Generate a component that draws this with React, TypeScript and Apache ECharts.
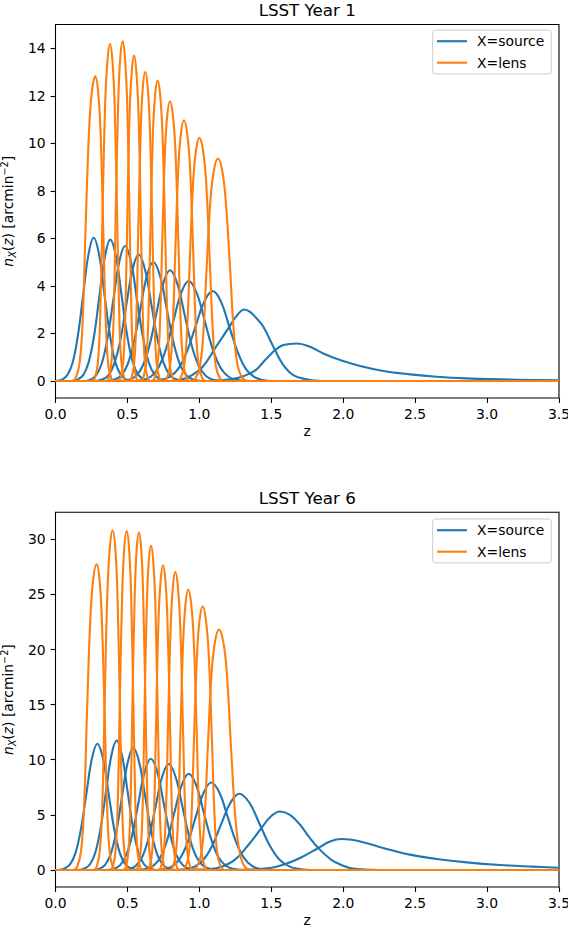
import React, { useEffect, useRef } from "react";
import * as echarts from "echarts";

const FONT = "DejaVu Sans";
const BLUE = "#1f77b4";
const ORANGE = "#ff7f0e";

const zTicks = [0, 0.5, 1, 1.5, 2, 2.5, 3, 3.5];
const y1Ticks = [0, 2, 4, 6, 8, 10, 12, 14];
const y6Ticks = [0, 5, 10, 15, 20, 25, 30];
const titles = ["LSST Year 1", "LSST Year 6"];
const legendNames = ["X=source", "X=lens"];

// ---- LSST Year 1 : source bins (z, n) ----
const y1SourceBins = [
  [[0,0],[0.049,0.07],[0.085,0.27],[0.121,0.81],[0.157,1.96],[0.193,3.66],[0.229,5.32],[0.265,6.03],[0.303,5.32],[0.340,3.66],[0.378,1.96],[0.415,0.81],[0.453,0.27],[0.490,0.07],[0.535,0],[3.5,0]],
  [[0,0],[0.111,0],[0.156,0.07],[0.194,0.26],[0.231,0.80],[0.269,1.93],[0.306,3.61],[0.344,5.25],[0.381,5.95],[0.420,5.25],[0.459,3.61],[0.498,1.93],[0.537,0.80],[0.576,0.26],[0.615,0.07],[0.662,0],[3.5,0]],
  [[0,0],[0.195,0],[0.243,0.06],[0.283,0.25],[0.323,0.77],[0.363,1.85],[0.403,3.45],[0.443,5.01],[0.483,5.68],[0.525,5.01],[0.566,3.45],[0.608,1.85],[0.649,0.77],[0.691,0.25],[0.732,0.06],[0.782,0],[3.5,0]],
  [[0,0],[0.272,0],[0.323,0.06],[0.366,0.23],[0.408,0.72],[0.451,1.73],[0.493,3.23],[0.536,4.69],[0.578,5.32],[0.622,4.69],[0.666,3.23],[0.710,1.73],[0.754,0.72],[0.798,0.23],[0.842,0.06],[0.895,0],[3.5,0]],
  [[0,0],[0.356,0],[0.410,0.06],[0.455,0.22],[0.500,0.68],[0.545,1.63],[0.590,3.04],[0.635,4.42],[0.680,5.01],[0.727,4.42],[0.773,3.04],[0.820,1.63],[0.866,0.68],[0.913,0.22],[0.959,0.06],[1.015,0],[3.5,0]],
  [[0,0],[0.454,0],[0.511,0.05],[0.559,0.21],[0.606,0.63],[0.654,1.51],[0.701,2.83],[0.749,4.11],[0.796,4.66],[0.846,4.11],[0.896,2.83],[0.946,1.51],[0.996,0.63],[1.046,0.21],[1.096,0.05],[1.156,0],[3.5,0]],
  [[0,0],[0.548,0],[0.611,0.05],[0.664,0.19],[0.716,0.57],[0.769,1.37],[0.821,2.56],[0.874,3.71],[0.926,4.21],[0.981,3.71],[1.036,2.56],[1.091,1.37],[1.146,0.57],[1.201,0.19],[1.256,0.05],[1.322,0],[3.5,0]],
  [[0,0],[0.661,0],[0.733,0.04],[0.793,0.17],[0.853,0.51],[0.913,1.23],[0.973,2.29],[1.033,3.33],[1.093,3.78],[1.151,3.33],[1.208,2.29],[1.266,1.23],[1.323,0.51],[1.381,0.17],[1.438,0.04],[1.507,0],[3.5,0]],
  [[0,0],[0.80,0],[0.87,0.06],[0.93,0.18],[1.023,0.6],[1.116,1.44],[1.208,2.28],[1.26,2.75],[1.313,3.01],[1.352,2.91],[1.40,2.62],[1.445,2.28],[1.526,1.30],[1.584,0.67],[1.653,0.25],[1.746,0.07],[1.82,0.01],[1.9,0],[3.5,0]],
  [[0,0],[1.0,0],[1.1,0.01],[1.2,0.06],[1.28,0.15],[1.352,0.32],[1.40,0.50],[1.445,0.80],[1.49,1.08],[1.526,1.30],[1.584,1.51],[1.677,1.58],[1.769,1.44],[1.862,1.16],[1.978,0.88],[2.117,0.63],[2.279,0.42],[2.464,0.28],[2.65,0.18],[2.858,0.11],[3.09,0.07],[3.32,0.04],[3.5,0.03]],
];

// ---- LSST Year 1 : lens bins (z, n) ----
const y1LensBins = [
  [[0,0],[0.114,0],[0.141,0.13],[0.168,0.77],[0.189,2.56],[0.209,6.41],[0.233,10.51],[0.253,12.18],[0.277,12.82],[0.296,12.18],[0.313,10.51],[0.332,6.41],[0.349,2.56],[0.365,0.77],[0.387,0.13],[0.409,0],[3.5,0]],
  [[0,0],[0.254,0],[0.275,0.14],[0.296,0.85],[0.311,2.84],[0.327,7.09],[0.345,11.63],[0.361,13.47],[0.379,14.18],[0.396,13.47],[0.411,11.63],[0.428,7.09],[0.443,2.84],[0.457,0.85],[0.477,0.14],[0.497,0],[3.5,0]],
  [[0,0],[0.352,0],[0.371,0.14],[0.390,0.86],[0.405,2.86],[0.419,7.15],[0.436,11.72],[0.450,13.58],[0.467,14.29],[0.483,13.58],[0.498,11.72],[0.514,7.15],[0.528,2.86],[0.542,0.86],[0.561,0.14],[0.580,0],[3.5,0]],
  [[0,0],[0.433,0],[0.452,0.14],[0.471,0.82],[0.485,2.74],[0.499,6.85],[0.515,11.23],[0.530,13.01],[0.546,13.69],[0.562,13.01],[0.577,11.23],[0.593,6.85],[0.607,2.74],[0.621,0.82],[0.640,0.14],[0.659,0],[3.5,0]],
  [[0,0],[0.509,0],[0.528,0.13],[0.547,0.78],[0.562,2.6],[0.576,6.5],[0.593,10.66],[0.607,12.35],[0.624,13.0],[0.641,12.35],[0.656,10.66],[0.673,6.5],[0.688,2.6],[0.702,0.78],[0.722,0.13],[0.742,0],[3.5,0]],
  [[0,0],[0.590,0],[0.610,0.13],[0.630,0.76],[0.645,2.53],[0.660,6.32],[0.677,10.36],[0.692,12.01],[0.710,12.64],[0.728,12.01],[0.744,10.36],[0.762,6.32],[0.778,2.53],[0.793,0.76],[0.814,0.13],[0.835,0],[3.5,0]],
  [[0,0],[0.666,0],[0.688,0.12],[0.710,0.71],[0.726,2.35],[0.742,5.89],[0.761,9.65],[0.777,11.18],[0.796,11.77],[0.816,11.18],[0.834,9.65],[0.854,5.89],[0.871,2.35],[0.889,0.71],[0.912,0.12],[0.935,0],[3.5,0]],
  [[0,0],[0.749,0],[0.773,0.11],[0.797,0.66],[0.815,2.19],[0.833,5.49],[0.854,9.0],[0.872,10.42],[0.893,10.97],[0.915,10.42],[0.935,9.0],[0.957,5.49],[0.976,2.19],[0.995,0.66],[1.021,0.11],[1.047,0],[3.5,0]],
  [[0,0],[0.842,0],[0.868,0.10],[0.894,0.61],[0.914,2.05],[0.934,5.12],[0.957,8.39],[0.977,9.72],[1.0,10.23],[1.025,9.72],[1.047,8.39],[1.072,5.12],[1.094,2.05],[1.115,0.61],[1.144,0.10],[1.173,0],[3.5,0]],
  [[0,0],[0.938,0],[0.970,0.09],[1.002,0.56],[1.026,1.87],[1.05,4.68],[1.078,7.68],[1.102,8.89],[1.13,9.36],[1.158,8.89],[1.182,7.68],[1.212,4.9],[1.238,2.2],[1.265,0.7],[1.30,0.12],[1.34,0],[3.5,0]],
];

// ---- LSST Year 6 : source bins (z, n) ----
const y6SourceBins = [
  [[0,0],[0.017,0],[0.063,0.13],[0.101,0.50],[0.139,1.55],[0.177,3.72],[0.215,6.95],[0.253,10.10],[0.291,11.45],[0.330,10.10],[0.369,6.95],[0.408,3.72],[0.447,1.55],[0.486,0.50],[0.525,0.13],[0.572,0],[3.5,0]],
  [[0,0],[0.159,0],[0.203,0.13],[0.240,0.52],[0.277,1.59],[0.314,3.82],[0.351,7.13],[0.388,10.36],[0.425,11.75],[0.463,10.36],[0.501,7.13],[0.539,3.82],[0.577,1.59],[0.615,0.52],[0.653,0.13],[0.699,0],[3.5,0]],
  [[0,0],[0.260,0],[0.307,0.12],[0.346,0.49],[0.385,1.49],[0.424,3.59],[0.463,6.71],[0.502,9.75],[0.541,11.06],[0.582,9.75],[0.623,6.71],[0.664,3.59],[0.705,1.49],[0.746,0.49],[0.787,0.12],[0.836,0],[3.5,0]],
  [[0,0],[0.356,0],[0.407,0.11],[0.450,0.44],[0.492,1.36],[0.535,3.28],[0.577,6.12],[0.620,8.90],[0.662,10.09],[0.707,8.90],[0.751,6.12],[0.796,3.28],[0.840,1.36],[0.885,0.44],[0.929,0.11],[0.982,0],[3.5,0]],
  [[0,0],[0.463,0],[0.517,0.11],[0.562,0.42],[0.607,1.30],[0.652,3.12],[0.697,5.83],[0.742,8.48],[0.787,9.61],[0.834,8.48],[0.881,5.83],[0.928,3.12],[0.975,1.30],[1.022,0.42],[1.069,0.11],[1.125,0],[3.5,0]],
  [[0,0],[0.573,0],[0.632,0.10],[0.681,0.38],[0.730,1.18],[0.779,2.84],[0.828,5.30],[0.877,7.70],[0.926,8.73],[0.978,7.70],[1.029,5.30],[1.081,2.84],[1.132,1.18],[1.184,0.38],[1.235,0.10],[1.297,0],[3.5,0]],
  [[0,0],[0.694,0],[0.759,0.09],[0.813,0.35],[0.867,1.07],[0.921,2.58],[0.975,4.82],[1.029,7.00],[1.083,7.94],[1.140,7.00],[1.197,4.82],[1.254,2.58],[1.311,1.07],[1.368,0.35],[1.425,0.09],[1.493,0],[3.5,0]],
  [[0,0],[0.828,0],[0.903,0.08],[0.966,0.30],[1.028,0.93],[1.091,2.25],[1.153,4.20],[1.216,6.10],[1.278,6.92],[1.348,6.10],[1.418,4.20],[1.488,2.25],[1.558,0.93],[1.628,0.30],[1.698,0.08],[1.782,0],[3.5,0]],
  [[0,0],[0.9,0],[0.97,0.02],[1.05,0.06],[1.15,0.27],[1.25,0.96],[1.352,2.45],[1.434,3.85],[1.50,4.9],[1.561,5.31],[1.63,5.0],[1.70,4.1],[1.76,3.05],[1.827,1.99],[1.92,0.9],[2.0,0.38],[2.047,0.18],[2.15,0.03],[2.25,0],[3.5,0]],
  [[0,0],[1.2,0],[1.35,0.03],[1.491,0.18],[1.583,0.48],[1.70,1.09],[1.827,1.99],[1.908,2.59],[1.99,2.81],[2.117,2.59],[2.278,1.99],[2.464,1.39],[2.65,1.0],[2.858,0.69],[3.09,0.45],[3.32,0.30],[3.5,0.2]],
];

// ---- LSST Year 6 : lens bins (z, n) ----
const y6LensBins = [
  [[0,0],[0.123,0],[0.150,0.28],[0.177,1.66],[0.198,5.55],[0.218,13.87],[0.242,22.75],[0.262,26.35],[0.286,27.74],[0.306,26.35],[0.322,22.75],[0.342,13.87],[0.359,5.55],[0.376,1.66],[0.398,0.28],[0.420,0],[3.5,0]],
  [[0,0],[0.265,0],[0.287,0.31],[0.309,1.85],[0.326,6.16],[0.342,15.41],[0.361,25.27],[0.378,29.28],[0.397,30.82],[0.415,29.28],[0.430,25.27],[0.447,15.41],[0.462,6.16],[0.477,1.85],[0.497,0.31],[0.517,0],[3.5,0]],
  [[0,0],[0.380,0],[0.399,0.31],[0.418,1.85],[0.433,6.15],[0.447,15.38],[0.464,25.22],[0.478,29.22],[0.495,30.76],[0.511,29.22],[0.525,25.22],[0.541,15.38],[0.555,6.15],[0.569,1.85],[0.587,0.31],[0.605,0],[3.5,0]],
  [[0,0],[0.472,0],[0.490,0.31],[0.508,1.84],[0.522,6.12],[0.535,15.31],[0.551,25.10],[0.564,29.08],[0.580,30.61],[0.596,29.08],[0.609,25.10],[0.625,15.31],[0.639,6.12],[0.652,1.84],[0.670,0.31],[0.688,0],[3.5,0]],
  [[0,0],[0.556,0],[0.574,0.29],[0.592,1.76],[0.606,5.88],[0.619,14.70],[0.635,24.11],[0.648,27.93],[0.664,29.40],[0.680,27.93],[0.694,24.11],[0.710,14.70],[0.724,5.88],[0.738,1.76],[0.756,0.29],[0.774,0],[3.5,0]],
  [[0,0],[0.634,0],[0.653,0.28],[0.672,1.66],[0.686,5.53],[0.700,13.83],[0.716,22.67],[0.731,26.27],[0.747,27.65],[0.764,26.27],[0.778,22.67],[0.795,13.83],[0.809,5.53],[0.824,1.66],[0.843,0.28],[0.862,0],[3.5,0]],
  [[0,0],[0.713,0],[0.733,0.27],[0.753,1.62],[0.768,5.41],[0.783,13.52],[0.801,22.17],[0.816,25.69],[0.833,27.04],[0.851,25.69],[0.867,22.17],[0.885,13.52],[0.901,5.41],[0.916,1.62],[0.937,0.27],[0.958,0],[3.5,0]],
  [[0,0],[0.793,0],[0.815,0.25],[0.837,1.53],[0.853,5.09],[0.869,12.72],[0.888,20.86],[0.904,24.17],[0.923,25.44],[0.943,24.17],[0.961,20.86],[0.981,12.72],[0.998,5.09],[1.016,1.53],[1.039,0.25],[1.062,0],[3.5,0]],
  [[0,0],[0.879,0],[0.903,0.24],[0.927,1.44],[0.945,4.79],[0.963,11.97],[0.984,19.62],[1.002,22.73],[1.023,23.93],[1.045,22.73],[1.065,19.62],[1.087,11.97],[1.106,4.79],[1.125,1.44],[1.151,0.24],[1.177,0],[3.5,0]],
  [[0,0],[0.949,0],[0.980,0.22],[1.011,1.31],[1.035,4.36],[1.058,10.91],[1.085,17.88],[1.109,20.72],[1.136,21.81],[1.166,20.72],[1.191,17.88],[1.221,10.91],[1.25,4.8],[1.28,1.6],[1.315,0.3],[1.36,0],[3.5,0]],
];

const yExtents = [
  [-0.715, 15.0],
  [-1.545, 32.45],
];

function makeSeries(bins: number[][][], name: string, color: string, idx: number) {
  return bins.map((pts) => ({
    type: "line",
    name,
    xAxisIndex: idx,
    yAxisIndex: idx,
    data: pts,
    symbol: "none",
    showSymbol: false,
    smooth: 0.4,
    lineStyle: { color, width: 2.1 },
    itemStyle: { color },
    silent: true,
    emphasis: { disabled: true },
  }));
}

const GRID_LEFT = 55.5;
const GRID_WIDTH = 503.5;
const gridTops = [24.5, 512.3];
const gridHeights = [373.5, 374.7];
const yTickSets = [y1Ticks, y6Ticks];

function buildOption() {
  const grids = gridTops.map((top, i) => ({
    left: GRID_LEFT,
    top,
    width: GRID_WIDTH,
    height: gridHeights[i],
    show: true,
    borderColor: "#000",
    borderWidth: 1.1,
    backgroundColor: "transparent",
    containLabel: false,
    outerBoundsMode: "none",
  }));

  const xAxes = [0, 1].map((i) => ({
    type: "value",
    gridIndex: i,
    min: 0,
    max: 3.5,
    interval: 0.5,
    name: "z",
    nameLocation: "middle",
    nameGap: 26,
    nameTextStyle: { fontSize: 13.9, fontFamily: FONT, color: "#000" },
    axisLine: { show: false, onZero: false },
    axisTick: { show: true, length: 4.9, inside: false, lineStyle: { color: "#000", width: 1.1 } },
    axisLabel: {
      show: true,
      margin: 9,
      fontSize: 13.9,
      fontFamily: FONT,
      color: "#000",
      formatter: (v: number) => v.toFixed(1),
      customValues: zTicks,
    },
    splitLine: { show: false },
  }));

  const yName = "{i|n}{s|X}{t|(}{i|z}{t|) [arcmin}{p|−2}{t|]}";
  const yAxes = [0, 1].map((i) => ({
    type: "value",
    gridIndex: i,
    min: yExtents[i][0],
    max: yExtents[i][1],
    name: yName,
    nameLocation: "middle",
    nameRotate: 90,
    nameGap: 31,
    nameTextStyle: {
      fontFamily: FONT,
      color: "#000",
      rich: {
        i: { fontStyle: "italic", fontSize: 13.9, fontFamily: FONT, color: "#000", lineHeight: 18, verticalAlign: "middle" },
        t: { fontSize: 13.9, fontFamily: FONT, color: "#000", lineHeight: 18, verticalAlign: "middle" },
        s: { fontStyle: "italic", fontSize: 9.7, fontFamily: FONT, color: "#000", lineHeight: 10, verticalAlign: "bottom" },
        p: { fontSize: 9.7, fontFamily: FONT, color: "#000", lineHeight: 10, verticalAlign: "top" },
      },
    },
    axisLine: { show: false, onZero: false },
    axisTick: {
      show: true,
      length: 4.9,
      inside: false,
      lineStyle: { color: "#000", width: 1.1 },
      customValues: yTickSets[i],
    },
    axisLabel: {
      show: true,
      margin: 9.8,
      fontSize: 13.9,
      fontFamily: FONT,
      color: "#000",
      customValues: yTickSets[i],
      formatter: (v: number) => String(Math.round(v)),
    },
    splitLine: { show: false },
  }));

  const legendTops = [30, 519];
  const legends = legendTops.map((top) => ({
    orient: "vertical",
    left: 432.7,
    top,
    icon: "rect",
    itemWidth: 30,
    itemHeight: 2.1,
    itemGap: 7.5,
    padding: [4.2, 7, 4.2, 4.3],
    borderColor: "#cccccc",
    borderWidth: 1,
    borderRadius: 3,
    backgroundColor: "rgba(255,255,255,0.8)",
    selectedMode: false,
    textStyle: { fontSize: 13.9, fontFamily: FONT, color: "#000", padding: [0, 0, 0, 5] },
    data: legendNames,
  }));

  const series = [
    ...makeSeries(y1SourceBins, legendNames[0], BLUE, 0),
    ...makeSeries(y1LensBins, legendNames[1], ORANGE, 0),
    ...makeSeries(y6SourceBins, legendNames[0], BLUE, 1),
    ...makeSeries(y6LensBins, legendNames[1], ORANGE, 1),
  ];

  const titleY = [10, 497.6];
  const graphic = titles.map((t, i) => ({
    type: "text",
    x: GRID_LEFT + GRID_WIDTH / 2,
    y: titleY[i],
    silent: true,
    style: {
      text: t,
      fontSize: 16.7,
      fontFamily: FONT,
      fill: "#000",
      align: "center",
      verticalAlign: "middle",
    },
  }));

  return {
    animation: false,
    backgroundColor: "#fff",
    textStyle: { fontFamily: FONT },
    grid: grids,
    xAxis: xAxes,
    yAxis: yAxes,
    legend: legends,
    series,
    graphic,
  };
}

export default function App() {
  const ref = useRef<HTMLDivElement>(null);
  useEffect(() => {
    if (!ref.current) return;
    const chart = echarts.init(ref.current, null, { renderer: "svg" });
    chart.setOption(buildOption() as any);
    return () => chart.dispose();
  }, []);
  return (
    <div
      ref={ref}
      style={{ position: "absolute", left: 0, top: 0, width: 568, height: 933, background: "#fff" }}
    />
  );
}
